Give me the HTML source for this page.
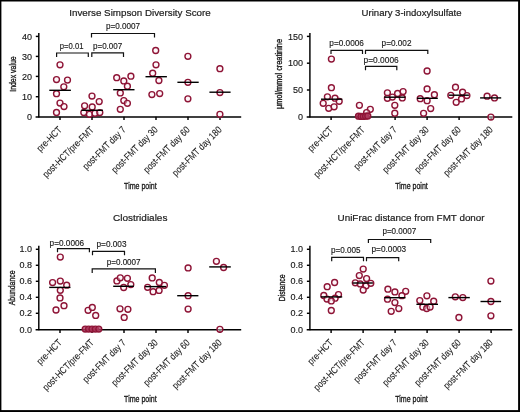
<!DOCTYPE html>
<html><head><meta charset="utf-8"><style>
html,body{margin:0;padding:0;background:#fff;}
svg{display:block;will-change:transform;font-family:"Liberation Sans",sans-serif;}
</style></head><body>
<svg width="520" height="412" viewBox="0 0 520 412">
<rect x="0" y="0" width="520" height="412" fill="#fff"/>
<g stroke="#000" stroke-width="1.45" fill="none">
<line x1="38.8" y1="32.9" x2="38.8" y2="117.4"/>
<line x1="35.6" y1="116.9" x2="241.2" y2="116.9"/>
<line x1="35.8" y1="36.4" x2="38.8" y2="36.4"/>
<line x1="35.8" y1="56.4" x2="38.8" y2="56.4"/>
<line x1="35.8" y1="76.4" x2="38.8" y2="76.4"/>
<line x1="35.8" y1="96.7" x2="38.8" y2="96.7"/>
<line x1="60.0" y1="116.8" x2="60.0" y2="120.0"/>
<line x1="92.0" y1="116.8" x2="92.0" y2="120.0"/>
<line x1="124.0" y1="116.8" x2="124.0" y2="120.0"/>
<line x1="156.0" y1="116.8" x2="156.0" y2="120.0"/>
<line x1="188.0" y1="116.8" x2="188.0" y2="120.0"/>
<line x1="220.0" y1="116.8" x2="220.0" y2="120.0"/>
</g>
<g font-size="9" fill="#1a1a1a" stroke="#1a1a1a" stroke-width="0.15" text-anchor="end">
<text x="31.9" y="39.5">40</text>
<text x="31.9" y="59.5">30</text>
<text x="31.9" y="79.5">20</text>
<text x="31.9" y="99.8">10</text>
<text x="31.9" y="119.9">0</text>
</g>
<g font-size="9.8" fill="#1a1a1a" stroke="#1a1a1a" stroke-width="0.1" text-anchor="end">
<text transform="translate(62.4,130.4) rotate(-45)" textLength="31.0" lengthAdjust="spacingAndGlyphs">pre-HCT</text>
<text transform="translate(94.4,130.4) rotate(-45)" textLength="67.8" lengthAdjust="spacingAndGlyphs">post-HCT/pre-FMT</text>
<text transform="translate(126.4,130.4) rotate(-45)" textLength="56.5" lengthAdjust="spacingAndGlyphs">post-FMT day 7</text>
<text transform="translate(158.4,130.4) rotate(-45)" textLength="61.0" lengthAdjust="spacingAndGlyphs">post-FMT day 30</text>
<text transform="translate(190.4,130.4) rotate(-45)" textLength="61.0" lengthAdjust="spacingAndGlyphs">post-FMT day 60</text>
<text transform="translate(222.4,130.4) rotate(-45)" textLength="65.5" lengthAdjust="spacingAndGlyphs">post-FMT day 180</text>
</g>
<text x="124.1" y="189.3" font-size="9.9" font-weight="normal" fill="#1a1a1a" stroke="#1a1a1a" stroke-width="0.35" textLength="32.6" lengthAdjust="spacingAndGlyphs">Time point</text>
<text x="69.3" y="15.6" font-size="9.9" fill="#1a1a1a" stroke="#1a1a1a" stroke-width="0.2" textLength="141.4" lengthAdjust="spacingAndGlyphs">Inverse Simpson Diversity Score</text>
<text transform="translate(16.0,91.8) rotate(-90)" font-size="9.7" font-weight="normal" fill="#1a1a1a" stroke="#1a1a1a" stroke-width="0.35" textLength="35.5" lengthAdjust="spacingAndGlyphs">Index value</text>
<path d="M56.6,57.0 V53.0 H88.3 V57.0" stroke="#111" stroke-width="1.2" fill="none"/>
<text x="59.8" y="48.8" font-size="8.8" fill="#1a1a1a" stroke="#1a1a1a" stroke-width="0.15" textLength="23.7" lengthAdjust="spacingAndGlyphs">p=0.01</text>
<path d="M91.8,57.0 V52.8 H123.5 V57.0" stroke="#111" stroke-width="1.2" fill="none"/>
<text x="93.0" y="48.8" font-size="8.8" fill="#1a1a1a" stroke="#1a1a1a" stroke-width="0.15" textLength="29.2" lengthAdjust="spacingAndGlyphs">p=0.007</text>
<path d="M91.5,37.6 V33.5 H154.5 V37.6" stroke="#111" stroke-width="1.2" fill="none"/>
<text x="105.9" y="29.1" font-size="8.8" fill="#1a1a1a" stroke="#1a1a1a" stroke-width="0.15" textLength="34.1" lengthAdjust="spacingAndGlyphs">p=0.0007</text>
<g stroke="#8e1436" stroke-width="1.4" fill="#fdeef3" fill-opacity="0.5">
<circle cx="60.0" cy="64.8" r="2.95"/>
<circle cx="56.5" cy="79.6" r="2.95"/>
<circle cx="67.5" cy="80.1" r="2.95"/>
<circle cx="63.8" cy="86.8" r="2.95"/>
<circle cx="56.5" cy="93.7" r="2.95"/>
<circle cx="60.0" cy="103.1" r="2.95"/>
<circle cx="64.0" cy="106.6" r="2.95"/>
<circle cx="56.5" cy="112.4" r="2.95"/>
</g>
<line x1="49.3" y1="90.3" x2="70.9" y2="90.3" stroke="#000" stroke-width="1.4"/>
<g stroke="#8e1436" stroke-width="1.4" fill="#fdeef3" fill-opacity="0.5">
<circle cx="92.0" cy="96.1" r="2.95"/>
<circle cx="99.2" cy="101.6" r="2.95"/>
<circle cx="84.6" cy="105.8" r="2.95"/>
<circle cx="92.2" cy="106.9" r="2.95"/>
<circle cx="83.8" cy="112.6" r="2.95"/>
<circle cx="89.4" cy="114.3" r="2.95"/>
<circle cx="95.0" cy="113.3" r="2.95"/>
<circle cx="99.8" cy="112.6" r="2.95"/>
</g>
<line x1="81.4" y1="110.3" x2="103.0" y2="110.3" stroke="#000" stroke-width="1.4"/>
<g stroke="#8e1436" stroke-width="1.4" fill="#fdeef3" fill-opacity="0.5">
<circle cx="116.7" cy="77.7" r="2.95"/>
<circle cx="130.9" cy="76.2" r="2.95"/>
<circle cx="123.8" cy="80.9" r="2.95"/>
<circle cx="127.4" cy="86.2" r="2.95"/>
<circle cx="120.3" cy="92.9" r="2.95"/>
<circle cx="123.8" cy="100.6" r="2.95"/>
<circle cx="127.4" cy="103.3" r="2.95"/>
<circle cx="120.3" cy="109.3" r="2.95"/>
</g>
<line x1="113.2" y1="89.7" x2="134.5" y2="89.7" stroke="#000" stroke-width="1.4"/>
<g stroke="#8e1436" stroke-width="1.4" fill="#fdeef3" fill-opacity="0.5">
<circle cx="155.7" cy="50.5" r="2.95"/>
<circle cx="156.0" cy="64.8" r="2.95"/>
<circle cx="152.7" cy="73.2" r="2.95"/>
<circle cx="158.9" cy="80.5" r="2.95"/>
<circle cx="151.9" cy="94.6" r="2.95"/>
<circle cx="159.7" cy="93.6" r="2.95"/>
</g>
<line x1="145.5" y1="76.7" x2="166.9" y2="76.7" stroke="#000" stroke-width="1.4"/>
<g stroke="#8e1436" stroke-width="1.4" fill="#fdeef3" fill-opacity="0.5">
<circle cx="187.9" cy="56.3" r="2.95"/>
<circle cx="187.9" cy="82.3" r="2.95"/>
<circle cx="187.9" cy="98.8" r="2.95"/>
</g>
<line x1="177.4" y1="82.3" x2="198.7" y2="82.3" stroke="#000" stroke-width="1.4"/>
<g stroke="#8e1436" stroke-width="1.4" fill="#fdeef3" fill-opacity="0.5">
<circle cx="219.9" cy="68.7" r="2.95"/>
<circle cx="219.9" cy="92.6" r="2.95"/>
<circle cx="219.9" cy="114.3" r="2.95"/>
</g>
<line x1="209.4" y1="92.2" x2="230.6" y2="92.2" stroke="#000" stroke-width="1.4"/>
<g stroke="#000" stroke-width="1.45" fill="none">
<line x1="309.9" y1="32.9" x2="309.9" y2="117.4"/>
<line x1="306.7" y1="116.9" x2="512.3" y2="116.9"/>
<line x1="306.9" y1="36.4" x2="309.9" y2="36.4"/>
<line x1="306.9" y1="63.2" x2="309.9" y2="63.2"/>
<line x1="306.9" y1="90.0" x2="309.9" y2="90.0"/>
<line x1="331.1" y1="116.8" x2="331.1" y2="120.0"/>
<line x1="363.1" y1="116.8" x2="363.1" y2="120.0"/>
<line x1="395.1" y1="116.8" x2="395.1" y2="120.0"/>
<line x1="427.1" y1="116.8" x2="427.1" y2="120.0"/>
<line x1="459.1" y1="116.8" x2="459.1" y2="120.0"/>
<line x1="491.1" y1="116.8" x2="491.1" y2="120.0"/>
</g>
<g font-size="9" fill="#1a1a1a" stroke="#1a1a1a" stroke-width="0.15" text-anchor="end">
<text x="303.0" y="39.5">150</text>
<text x="303.0" y="66.3">100</text>
<text x="303.0" y="93.1">50</text>
<text x="303.0" y="119.9">0</text>
</g>
<g font-size="9.8" fill="#1a1a1a" stroke="#1a1a1a" stroke-width="0.1" text-anchor="end">
<text transform="translate(333.5,130.4) rotate(-45)" textLength="31.0" lengthAdjust="spacingAndGlyphs">pre-HCT</text>
<text transform="translate(365.5,130.4) rotate(-45)" textLength="67.8" lengthAdjust="spacingAndGlyphs">post-HCT/pre-FMT</text>
<text transform="translate(397.5,130.4) rotate(-45)" textLength="56.5" lengthAdjust="spacingAndGlyphs">post-FMT day 7</text>
<text transform="translate(429.5,130.4) rotate(-45)" textLength="61.0" lengthAdjust="spacingAndGlyphs">post-FMT day 30</text>
<text transform="translate(461.5,130.4) rotate(-45)" textLength="61.0" lengthAdjust="spacingAndGlyphs">post-FMT day 60</text>
<text transform="translate(493.5,130.4) rotate(-45)" textLength="65.5" lengthAdjust="spacingAndGlyphs">post-FMT day 180</text>
</g>
<text x="395.2" y="189.3" font-size="9.9" font-weight="normal" fill="#1a1a1a" stroke="#1a1a1a" stroke-width="0.35" textLength="32.6" lengthAdjust="spacingAndGlyphs">Time point</text>
<text x="361.6" y="15.9" font-size="9.9" fill="#1a1a1a" stroke="#1a1a1a" stroke-width="0.2" textLength="100.0" lengthAdjust="spacingAndGlyphs">Urinary 3-indoxylsulfate</text>
<text transform="translate(282.2,109.0) rotate(-90)" font-size="9.2" font-weight="normal" fill="#1a1a1a" stroke="#1a1a1a" stroke-width="0.35" textLength="70.0" lengthAdjust="spacingAndGlyphs">μmol/mmol creatinine</text>
<path d="M331.0,53.9 V50.3 H362.5 V53.9" stroke="#111" stroke-width="1.2" fill="none"/>
<text x="329.3" y="45.7" font-size="8.8" fill="#1a1a1a" stroke="#1a1a1a" stroke-width="0.15" textLength="34.6" lengthAdjust="spacingAndGlyphs">p=0.0006</text>
<path d="M365.5,53.9 V50.3 H427.8 V53.9" stroke="#111" stroke-width="1.2" fill="none"/>
<text x="381.6" y="45.9" font-size="8.8" fill="#1a1a1a" stroke="#1a1a1a" stroke-width="0.15" textLength="29.9" lengthAdjust="spacingAndGlyphs">p=0.002</text>
<path d="M365.5,70.3 V66.4 H396.8 V70.3" stroke="#111" stroke-width="1.2" fill="none"/>
<text x="363.6" y="63.4" font-size="8.8" fill="#1a1a1a" stroke="#1a1a1a" stroke-width="0.15" textLength="35.1" lengthAdjust="spacingAndGlyphs">p=0.0006</text>
<g stroke="#8e1436" stroke-width="1.4" fill="#fdeef3" fill-opacity="0.5">
<circle cx="331.4" cy="59.1" r="2.95"/>
<circle cx="331.4" cy="87.7" r="2.95"/>
<circle cx="327.4" cy="96.8" r="2.95"/>
<circle cx="335.0" cy="98.2" r="2.95"/>
<circle cx="323.2" cy="103.3" r="2.95"/>
<circle cx="339.2" cy="101.3" r="2.95"/>
<circle cx="328.7" cy="108.3" r="2.95"/>
<circle cx="334.1" cy="106.8" r="2.95"/>
</g>
<line x1="321.0" y1="99.2" x2="342.3" y2="99.2" stroke="#000" stroke-width="1.4"/>
<g stroke="#8e1436" stroke-width="1.4" fill="#fdeef3" fill-opacity="0.5">
<circle cx="359.4" cy="105.3" r="2.95"/>
<circle cx="370.3" cy="109.3" r="2.95"/>
<circle cx="366.6" cy="112.6" r="2.95"/>
</g>
<g stroke="#8e1436" stroke-width="1.4" fill="#b03c60" fill-opacity="0.8">
<circle cx="358.5" cy="116.2" r="2.95"/>
<circle cx="361.0" cy="116.4" r="2.95"/>
<circle cx="363.3" cy="116.4" r="2.95"/>
<circle cx="365.6" cy="116.2" r="2.95"/>
<circle cx="367.8" cy="116.0" r="2.95"/>
</g>
<g stroke="#8e1436" stroke-width="1.4" fill="#fdeef3" fill-opacity="0.5">
<circle cx="387.4" cy="92.8" r="2.95"/>
<circle cx="397.6" cy="93.4" r="2.95"/>
<circle cx="403.1" cy="91.6" r="2.95"/>
<circle cx="387.4" cy="98.3" r="2.95"/>
<circle cx="392.4" cy="97.1" r="2.95"/>
<circle cx="402.3" cy="97.9" r="2.95"/>
<circle cx="394.8" cy="105.3" r="2.95"/>
<circle cx="394.8" cy="113.2" r="2.95"/>
</g>
<line x1="384.2" y1="97.2" x2="405.5" y2="97.2" stroke="#000" stroke-width="1.4"/>
<g stroke="#8e1436" stroke-width="1.4" fill="#fdeef3" fill-opacity="0.5">
<circle cx="427.1" cy="71.0" r="2.95"/>
<circle cx="427.1" cy="88.9" r="2.95"/>
<circle cx="434.4" cy="94.7" r="2.95"/>
<circle cx="420.2" cy="98.7" r="2.95"/>
<circle cx="427.1" cy="100.7" r="2.95"/>
<circle cx="430.7" cy="108.6" r="2.95"/>
<circle cx="423.6" cy="113.3" r="2.95"/>
</g>
<line x1="417.0" y1="98.3" x2="437.8" y2="98.3" stroke="#000" stroke-width="1.4"/>
<g stroke="#8e1436" stroke-width="1.4" fill="#fdeef3" fill-opacity="0.5">
<circle cx="455.5" cy="87.2" r="2.95"/>
<circle cx="450.8" cy="95.3" r="2.95"/>
<circle cx="462.6" cy="92.2" r="2.95"/>
<circle cx="466.9" cy="95.6" r="2.95"/>
<circle cx="461.5" cy="98.9" r="2.95"/>
<circle cx="456.2" cy="102.3" r="2.95"/>
</g>
<line x1="448.7" y1="95.2" x2="468.9" y2="95.2" stroke="#000" stroke-width="1.4"/>
<g stroke="#8e1436" stroke-width="1.4" fill="#fdeef3" fill-opacity="0.5">
<circle cx="487.1" cy="96.2" r="2.95"/>
<circle cx="494.5" cy="97.9" r="2.95"/>
<circle cx="490.9" cy="117.1" r="2.95"/>
</g>
<line x1="480.1" y1="97.9" x2="501.2" y2="97.9" stroke="#000" stroke-width="1.4"/>
<g stroke="#000" stroke-width="1.45" fill="none">
<line x1="38.8" y1="245.8" x2="38.8" y2="330.3"/>
<line x1="35.6" y1="329.8" x2="241.2" y2="329.8"/>
<line x1="35.8" y1="249.3" x2="38.8" y2="249.3"/>
<line x1="35.8" y1="265.3" x2="38.8" y2="265.3"/>
<line x1="35.8" y1="281.3" x2="38.8" y2="281.3"/>
<line x1="35.8" y1="297.3" x2="38.8" y2="297.3"/>
<line x1="35.8" y1="313.3" x2="38.8" y2="313.3"/>
<line x1="60.0" y1="329.7" x2="60.0" y2="332.9"/>
<line x1="92.0" y1="329.7" x2="92.0" y2="332.9"/>
<line x1="124.0" y1="329.7" x2="124.0" y2="332.9"/>
<line x1="156.0" y1="329.7" x2="156.0" y2="332.9"/>
<line x1="188.0" y1="329.7" x2="188.0" y2="332.9"/>
<line x1="220.0" y1="329.7" x2="220.0" y2="332.9"/>
</g>
<g font-size="9" fill="#1a1a1a" stroke="#1a1a1a" stroke-width="0.15" text-anchor="end">
<text x="31.9" y="252.4">1.0</text>
<text x="31.9" y="268.4">0.8</text>
<text x="31.9" y="284.4">0.6</text>
<text x="31.9" y="300.4">0.4</text>
<text x="31.9" y="316.4">0.2</text>
<text x="31.9" y="332.8">0.0</text>
</g>
<g font-size="9.8" fill="#1a1a1a" stroke="#1a1a1a" stroke-width="0.1" text-anchor="end">
<text transform="translate(62.4,343.3) rotate(-45)" textLength="31.0" lengthAdjust="spacingAndGlyphs">pre-HCT</text>
<text transform="translate(94.4,343.3) rotate(-45)" textLength="67.8" lengthAdjust="spacingAndGlyphs">post-HCT/pre-FMT</text>
<text transform="translate(126.4,343.3) rotate(-45)" textLength="56.5" lengthAdjust="spacingAndGlyphs">post-FMT day 7</text>
<text transform="translate(158.4,343.3) rotate(-45)" textLength="61.0" lengthAdjust="spacingAndGlyphs">post-FMT day 30</text>
<text transform="translate(190.4,343.3) rotate(-45)" textLength="61.0" lengthAdjust="spacingAndGlyphs">post-FMT day 60</text>
<text transform="translate(222.4,343.3) rotate(-45)" textLength="65.5" lengthAdjust="spacingAndGlyphs">post-FMT day 180</text>
</g>
<text x="124.1" y="402.2" font-size="9.9" font-weight="normal" fill="#1a1a1a" stroke="#1a1a1a" stroke-width="0.35" textLength="32.6" lengthAdjust="spacingAndGlyphs">Time point</text>
<text x="113.1" y="221.4" font-size="9.9" fill="#1a1a1a" stroke="#1a1a1a" stroke-width="0.2" textLength="54.3" lengthAdjust="spacingAndGlyphs">Clostridiales</text>
<text transform="translate(14.9,305.2) rotate(-90)" font-size="9.7" font-weight="normal" fill="#1a1a1a" stroke="#1a1a1a" stroke-width="0.35" textLength="34.7" lengthAdjust="spacingAndGlyphs">Abundance</text>
<path d="M57.5,252.3 V248.6 H89.4 V252.3" stroke="#111" stroke-width="1.2" fill="none"/>
<text x="49.6" y="246.0" font-size="8.8" fill="#1a1a1a" stroke="#1a1a1a" stroke-width="0.15" textLength="34.6" lengthAdjust="spacingAndGlyphs">p=0.0006</text>
<path d="M92.5,255.2 V251.3 H124.5 V255.2" stroke="#111" stroke-width="1.2" fill="none"/>
<text x="96.5" y="246.7" font-size="8.8" fill="#1a1a1a" stroke="#1a1a1a" stroke-width="0.15" textLength="30.0" lengthAdjust="spacingAndGlyphs">p=0.003</text>
<path d="M92.2,273.0 V268.8 H155.4 V273.0" stroke="#111" stroke-width="1.2" fill="none"/>
<text x="106.7" y="265.4" font-size="8.8" fill="#1a1a1a" stroke="#1a1a1a" stroke-width="0.15" textLength="33.9" lengthAdjust="spacingAndGlyphs">p=0.0007</text>
<g stroke="#8e1436" stroke-width="1.4" fill="#fdeef3" fill-opacity="0.5">
<circle cx="60.3" cy="257.1" r="2.95"/>
<circle cx="52.6" cy="282.6" r="2.95"/>
<circle cx="60.3" cy="281.1" r="2.95"/>
<circle cx="66.7" cy="285.2" r="2.95"/>
<circle cx="60.3" cy="290.3" r="2.95"/>
<circle cx="60.0" cy="297.9" r="2.95"/>
<circle cx="64.0" cy="305.7" r="2.95"/>
<circle cx="56.0" cy="310.0" r="2.95"/>
</g>
<line x1="49.2" y1="287.4" x2="70.5" y2="287.4" stroke="#000" stroke-width="1.4"/>
<g stroke="#8e1436" stroke-width="1.4" fill="#fdeef3" fill-opacity="0.5">
<circle cx="88.1" cy="310.3" r="2.95"/>
<circle cx="92.3" cy="307.4" r="2.95"/>
<circle cx="95.7" cy="315.4" r="2.95"/>
</g>
<g stroke="#8e1436" stroke-width="1.4" fill="#b03c60" fill-opacity="0.8">
<circle cx="85.2" cy="329.1" r="2.95"/>
<circle cx="88.6" cy="329.1" r="2.95"/>
<circle cx="92.0" cy="329.1" r="2.95"/>
<circle cx="95.4" cy="329.1" r="2.95"/>
<circle cx="98.8" cy="329.1" r="2.95"/>
</g>
<g stroke="#8e1436" stroke-width="1.4" fill="#fdeef3" fill-opacity="0.5">
<circle cx="116.9" cy="280.9" r="2.95"/>
<circle cx="120.3" cy="277.8" r="2.95"/>
<circle cx="127.4" cy="278.3" r="2.95"/>
<circle cx="130.8" cy="284.6" r="2.95"/>
<circle cx="123.7" cy="287.5" r="2.95"/>
<circle cx="120.0" cy="308.8" r="2.95"/>
<circle cx="127.9" cy="309.3" r="2.95"/>
<circle cx="124.2" cy="317.4" r="2.95"/>
</g>
<line x1="113.2" y1="286.3" x2="133.9" y2="286.3" stroke="#000" stroke-width="1.4"/>
<g stroke="#8e1436" stroke-width="1.4" fill="#fdeef3" fill-opacity="0.5">
<circle cx="152.2" cy="277.9" r="2.95"/>
<circle cx="159.3" cy="282.5" r="2.95"/>
<circle cx="164.4" cy="285.3" r="2.95"/>
<circle cx="147.6" cy="287.3" r="2.95"/>
<circle cx="153.1" cy="291.7" r="2.95"/>
<circle cx="159.1" cy="290.4" r="2.95"/>
</g>
<line x1="145.1" y1="286.6" x2="166.2" y2="286.6" stroke="#000" stroke-width="1.4"/>
<g stroke="#8e1436" stroke-width="1.4" fill="#fdeef3" fill-opacity="0.5">
<circle cx="188.1" cy="267.9" r="2.95"/>
<circle cx="188.1" cy="295.7" r="2.95"/>
<circle cx="188.1" cy="309.1" r="2.95"/>
</g>
<line x1="177.2" y1="295.7" x2="198.4" y2="295.7" stroke="#000" stroke-width="1.4"/>
<g stroke="#8e1436" stroke-width="1.4" fill="#fdeef3" fill-opacity="0.5">
<circle cx="216.4" cy="261.3" r="2.95"/>
<circle cx="223.6" cy="267.5" r="2.95"/>
<circle cx="219.9" cy="329.3" r="2.95"/>
</g>
<line x1="209.2" y1="266.9" x2="230.8" y2="266.9" stroke="#000" stroke-width="1.4"/>
<g stroke="#000" stroke-width="1.45" fill="none">
<line x1="309.9" y1="245.8" x2="309.9" y2="330.3"/>
<line x1="306.7" y1="329.8" x2="512.3" y2="329.8"/>
<line x1="306.9" y1="249.3" x2="309.9" y2="249.3"/>
<line x1="306.9" y1="265.3" x2="309.9" y2="265.3"/>
<line x1="306.9" y1="281.3" x2="309.9" y2="281.3"/>
<line x1="306.9" y1="297.3" x2="309.9" y2="297.3"/>
<line x1="306.9" y1="313.3" x2="309.9" y2="313.3"/>
<line x1="331.1" y1="329.7" x2="331.1" y2="332.9"/>
<line x1="363.1" y1="329.7" x2="363.1" y2="332.9"/>
<line x1="395.1" y1="329.7" x2="395.1" y2="332.9"/>
<line x1="427.1" y1="329.7" x2="427.1" y2="332.9"/>
<line x1="459.1" y1="329.7" x2="459.1" y2="332.9"/>
<line x1="491.1" y1="329.7" x2="491.1" y2="332.9"/>
</g>
<g font-size="9" fill="#1a1a1a" stroke="#1a1a1a" stroke-width="0.15" text-anchor="end">
<text x="303.0" y="252.4">1.0</text>
<text x="303.0" y="268.4">0.8</text>
<text x="303.0" y="284.4">0.6</text>
<text x="303.0" y="300.4">0.4</text>
<text x="303.0" y="316.4">0.2</text>
<text x="303.0" y="332.8">0.0</text>
</g>
<g font-size="9.8" fill="#1a1a1a" stroke="#1a1a1a" stroke-width="0.1" text-anchor="end">
<text transform="translate(333.5,343.3) rotate(-45)" textLength="31.0" lengthAdjust="spacingAndGlyphs">pre-HCT</text>
<text transform="translate(365.5,343.3) rotate(-45)" textLength="67.8" lengthAdjust="spacingAndGlyphs">post-HCT/pre-FMT</text>
<text transform="translate(397.5,343.3) rotate(-45)" textLength="56.5" lengthAdjust="spacingAndGlyphs">post-FMT day 7</text>
<text transform="translate(429.5,343.3) rotate(-45)" textLength="61.0" lengthAdjust="spacingAndGlyphs">post-FMT day 30</text>
<text transform="translate(461.5,343.3) rotate(-45)" textLength="61.0" lengthAdjust="spacingAndGlyphs">post-FMT day 60</text>
<text transform="translate(493.5,343.3) rotate(-45)" textLength="65.5" lengthAdjust="spacingAndGlyphs">post-FMT day 180</text>
</g>
<text x="395.2" y="402.2" font-size="9.9" font-weight="normal" fill="#1a1a1a" stroke="#1a1a1a" stroke-width="0.35" textLength="32.6" lengthAdjust="spacingAndGlyphs">Time point</text>
<text x="337.6" y="221.3" font-size="9.9" fill="#1a1a1a" stroke="#1a1a1a" stroke-width="0.2" textLength="147.0" lengthAdjust="spacingAndGlyphs">UniFrac distance from FMT donor</text>
<text transform="translate(285.4,301.3) rotate(-90)" font-size="9.7" font-weight="normal" fill="#1a1a1a" stroke="#1a1a1a" stroke-width="0.35" textLength="26.8" lengthAdjust="spacingAndGlyphs">Distance</text>
<path d="M331.7,261.3 V257.4 H363.5 V261.3" stroke="#111" stroke-width="1.2" fill="none"/>
<text x="331.0" y="252.6" font-size="8.8" fill="#1a1a1a" stroke="#1a1a1a" stroke-width="0.15" textLength="29.6" lengthAdjust="spacingAndGlyphs">p=0.005</text>
<path d="M368.4,243.1 V239.5 H430.7 V243.1" stroke="#111" stroke-width="1.2" fill="none"/>
<text x="382.4" y="234.1" font-size="8.8" fill="#1a1a1a" stroke="#1a1a1a" stroke-width="0.15" textLength="33.9" lengthAdjust="spacingAndGlyphs">p=0.0007</text>
<path d="M366.5,261.2 V257.6 H398.7 V261.2" stroke="#111" stroke-width="1.2" fill="none"/>
<text x="371.5" y="252.2" font-size="8.8" fill="#1a1a1a" stroke="#1a1a1a" stroke-width="0.15" textLength="34.7" lengthAdjust="spacingAndGlyphs">p=0.0003</text>
<g stroke="#8e1436" stroke-width="1.4" fill="#fdeef3" fill-opacity="0.5">
<circle cx="334.6" cy="282.5" r="2.95"/>
<circle cx="327.2" cy="286.7" r="2.95"/>
<circle cx="323.8" cy="295.5" r="2.95"/>
<circle cx="338.5" cy="294.6" r="2.95"/>
<circle cx="327.0" cy="299.1" r="2.95"/>
<circle cx="335.1" cy="298.2" r="2.95"/>
<circle cx="331.3" cy="300.9" r="2.95"/>
<circle cx="331.3" cy="310.5" r="2.95"/>
</g>
<line x1="320.7" y1="296.9" x2="342.2" y2="296.9" stroke="#000" stroke-width="1.4"/>
<g stroke="#8e1436" stroke-width="1.4" fill="#fdeef3" fill-opacity="0.5">
<circle cx="363.2" cy="269.1" r="2.95"/>
<circle cx="359.3" cy="275.6" r="2.95"/>
<circle cx="366.6" cy="278.6" r="2.95"/>
<circle cx="355.3" cy="282.8" r="2.95"/>
<circle cx="360.2" cy="283.9" r="2.95"/>
<circle cx="366.1" cy="285.8" r="2.95"/>
<circle cx="370.8" cy="283.3" r="2.95"/>
<circle cx="363.2" cy="290.1" r="2.95"/>
</g>
<line x1="352.5" y1="283.0" x2="372.9" y2="283.0" stroke="#000" stroke-width="1.4"/>
<g stroke="#8e1436" stroke-width="1.4" fill="#fdeef3" fill-opacity="0.5">
<circle cx="387.9" cy="289.2" r="2.95"/>
<circle cx="394.9" cy="291.9" r="2.95"/>
<circle cx="405.7" cy="291.3" r="2.95"/>
<circle cx="401.9" cy="295.7" r="2.95"/>
<circle cx="387.5" cy="299.2" r="2.95"/>
<circle cx="394.9" cy="302.6" r="2.95"/>
<circle cx="398.8" cy="308.6" r="2.95"/>
<circle cx="391.2" cy="311.3" r="2.95"/>
</g>
<line x1="384.3" y1="297.7" x2="405.5" y2="297.7" stroke="#000" stroke-width="1.4"/>
<g stroke="#8e1436" stroke-width="1.4" fill="#fdeef3" fill-opacity="0.5">
<circle cx="426.9" cy="295.8" r="2.95"/>
<circle cx="419.8" cy="300.6" r="2.95"/>
<circle cx="433.7" cy="301.2" r="2.95"/>
<circle cx="422.8" cy="307.0" r="2.95"/>
<circle cx="426.7" cy="308.5" r="2.95"/>
<circle cx="430.1" cy="307.0" r="2.95"/>
</g>
<line x1="416.4" y1="304.3" x2="438.0" y2="304.3" stroke="#000" stroke-width="1.4"/>
<g stroke="#8e1436" stroke-width="1.4" fill="#fdeef3" fill-opacity="0.5">
<circle cx="455.3" cy="296.8" r="2.95"/>
<circle cx="462.8" cy="297.6" r="2.95"/>
<circle cx="458.9" cy="317.5" r="2.95"/>
</g>
<line x1="448.4" y1="297.6" x2="469.8" y2="297.6" stroke="#000" stroke-width="1.4"/>
<g stroke="#8e1436" stroke-width="1.4" fill="#fdeef3" fill-opacity="0.5">
<circle cx="490.9" cy="281.1" r="2.95"/>
<circle cx="490.9" cy="301.5" r="2.95"/>
<circle cx="490.9" cy="315.8" r="2.95"/>
</g>
<line x1="480.5" y1="301.5" x2="501.1" y2="301.5" stroke="#000" stroke-width="1.4"/>
<rect x="0" y="0" width="520" height="1.5" fill="#000"/>
<rect x="0" y="0" width="1.4" height="412" fill="#000"/>
<rect x="518.1" y="0" width="1.9" height="412" fill="#000"/>
<rect x="0" y="410.1" width="520" height="1.9" fill="#000"/>
</svg>
</body></html>
